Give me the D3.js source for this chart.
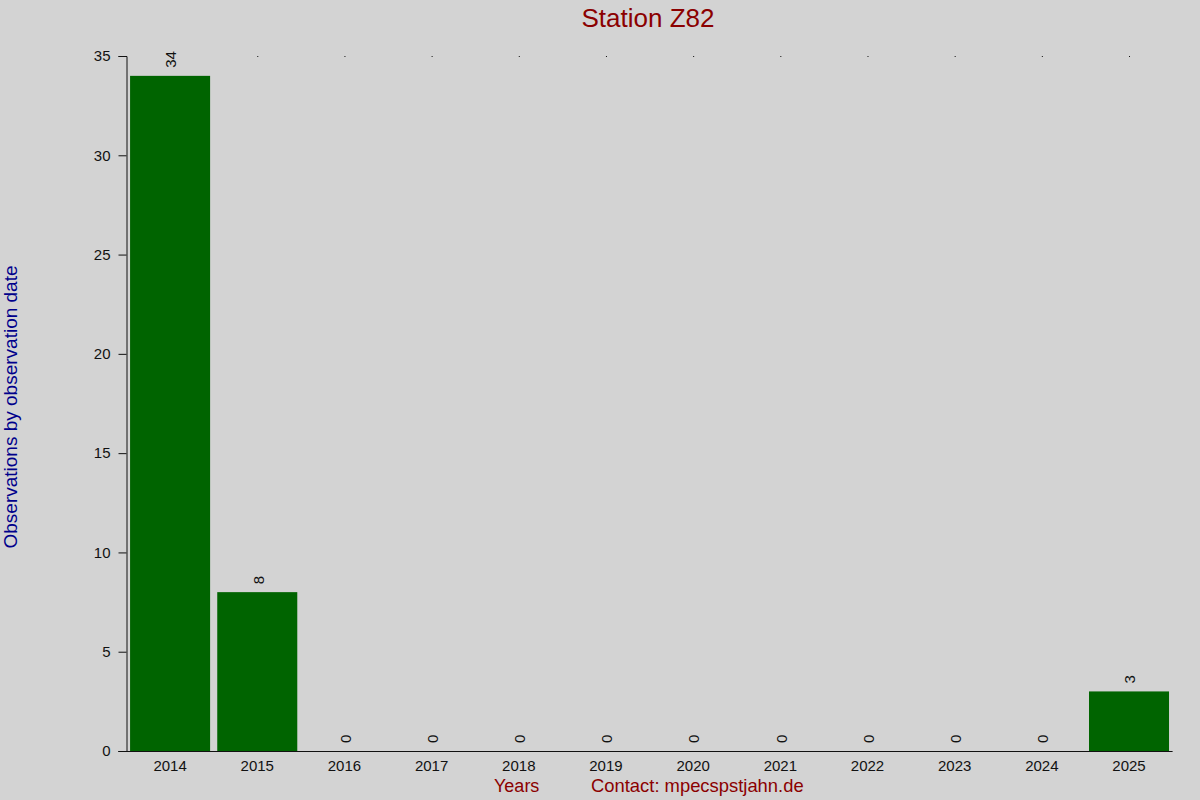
<!DOCTYPE html>
<html>
<head>
<meta charset="utf-8">
<script src="https://cdn.jsdelivr.net/npm/d3@7"></script>
<style>
  body { margin: 0; background: #d3d3d3; }
  text { font-family: "Liberation Sans", Arial, sans-serif; }
</style>
</head>
<body>
<div id="chart"></div>
<script>
// Observations per year for station Z82
const years = ["2014", "2015", "2016", "2017", "2018", "2019", "2020", "2021", "2022", "2023", "2024", "2025"];
const counts = [34, 8, 0, 0, 0, 0, 0, 0, 0, 0, 0, 3];
const yTicks = [0, 5, 10, 15, 20, 25, 30, 35];

const svgWidth = 1200, svgHeight = 800;
const margin = {top: 56, right: 27.4, bottom: 49, left: 126.5};
const width = svgWidth - margin.left - margin.right;
const height = svgHeight - margin.top - margin.bottom;

const data = years.map((y, i) => ({year: y, value: counts[i]}));

const svg = d3.select("#chart").append("svg")
    .attr("width", svgWidth)
    .attr("height", svgHeight)
    .style("display", "block")
    .style("background", "#d3d3d3");

const g = svg.append("g")
    .attr("transform", `translate(${margin.left},${margin.top})`);

const xScale = d3.scaleBand()
  .domain(years)
  .range([0, width])
  .paddingInner(0.082)
  .paddingOuter(0.041);

const yScale = d3.scaleLinear()
  .domain([0, 35])
  .range([height, 0]);

// Bars
g.selectAll(".bar")
  .data(data)
  .enter()
  .append("rect")
  .attr("class", "bar")
  .attr("x", d => xScale(d.year))
  .attr("y", d => yScale(d.value))
  .attr("width", xScale.bandwidth())
  .attr("height", d => height - yScale(d.value))
  .attr("fill", "#006400");

// Value labels, rotated
g.selectAll(".value")
  .data(data)
  .enter()
  .append("text")
  .attr("class", "value")
  .attr("transform", d => `translate(${xScale(d.year) + xScale.bandwidth() / 2 + 1},${yScale(d.value) - 8}) rotate(-90)`)
  .attr("dy", "0.35em")
  .style("font-size", "15px")
  .style("fill", "#111")
  .text(d => d.value);

// Small marks at the top of each category
g.selectAll(".topmark")
  .data(data)
  .enter()
  .append("rect")
  .attr("class", "topmark")
  .attr("x", d => xScale(d.year) + xScale.bandwidth() / 2)
  .attr("y", 0)
  .attr("width", 1)
  .attr("height", 1)
  .attr("fill", "#111");

// Y axis
const yAxis = g.append("g")
  .attr("class", "y-axis")
  .call(d3.axisLeft(yScale).tickValues(yTicks).tickSize(8).tickSizeOuter(8));
yAxis.selectAll("text").style("font-size", "15px").style("fill", "#111").attr("x", -16);
yAxis.selectAll("line, path").attr("stroke", "#111");

// X axis
const xAxis = g.append("g")
  .attr("class", "x-axis")
  .attr("transform", `translate(0,${height})`)
  .call(d3.axisBottom(xScale).tickSize(0).tickSizeOuter(0));
xAxis.select(".domain").attr("d", `M-8,0.5H${width}`).attr("stroke", "#111");
xAxis.selectAll("text").style("font-size", "15px").style("fill", "#111").attr("y", 9).attr("dy", "0.71em");

// Title
svg.append("text")
  .attr("x", 648)
  .attr("y", 27)
  .style("text-anchor", "middle")
  .style("font-size", "26px")
  .style("fill", "#8b0000")
  .text("Station Z82");

// Y axis label
svg.append("text")
  .attr("transform", "translate(17,407) rotate(-90)")
  .style("text-anchor", "middle")
  .style("font-size", "19px")
  .style("fill", "#00008b")
  .text("Observations by observation date");

// Bottom labels
svg.append("text")
  .attr("x", 494)
  .attr("y", 792)
  .style("font-size", "18px")
  .style("fill", "#8b0000")
  .text("Years");

svg.append("text")
  .attr("x", 591)
  .attr("y", 792)
  .style("font-size", "18.4px")
  .style("fill", "#8b0000")
  .text("Contact: mpecspstjahn.de");
</script>
</body>
</html>
